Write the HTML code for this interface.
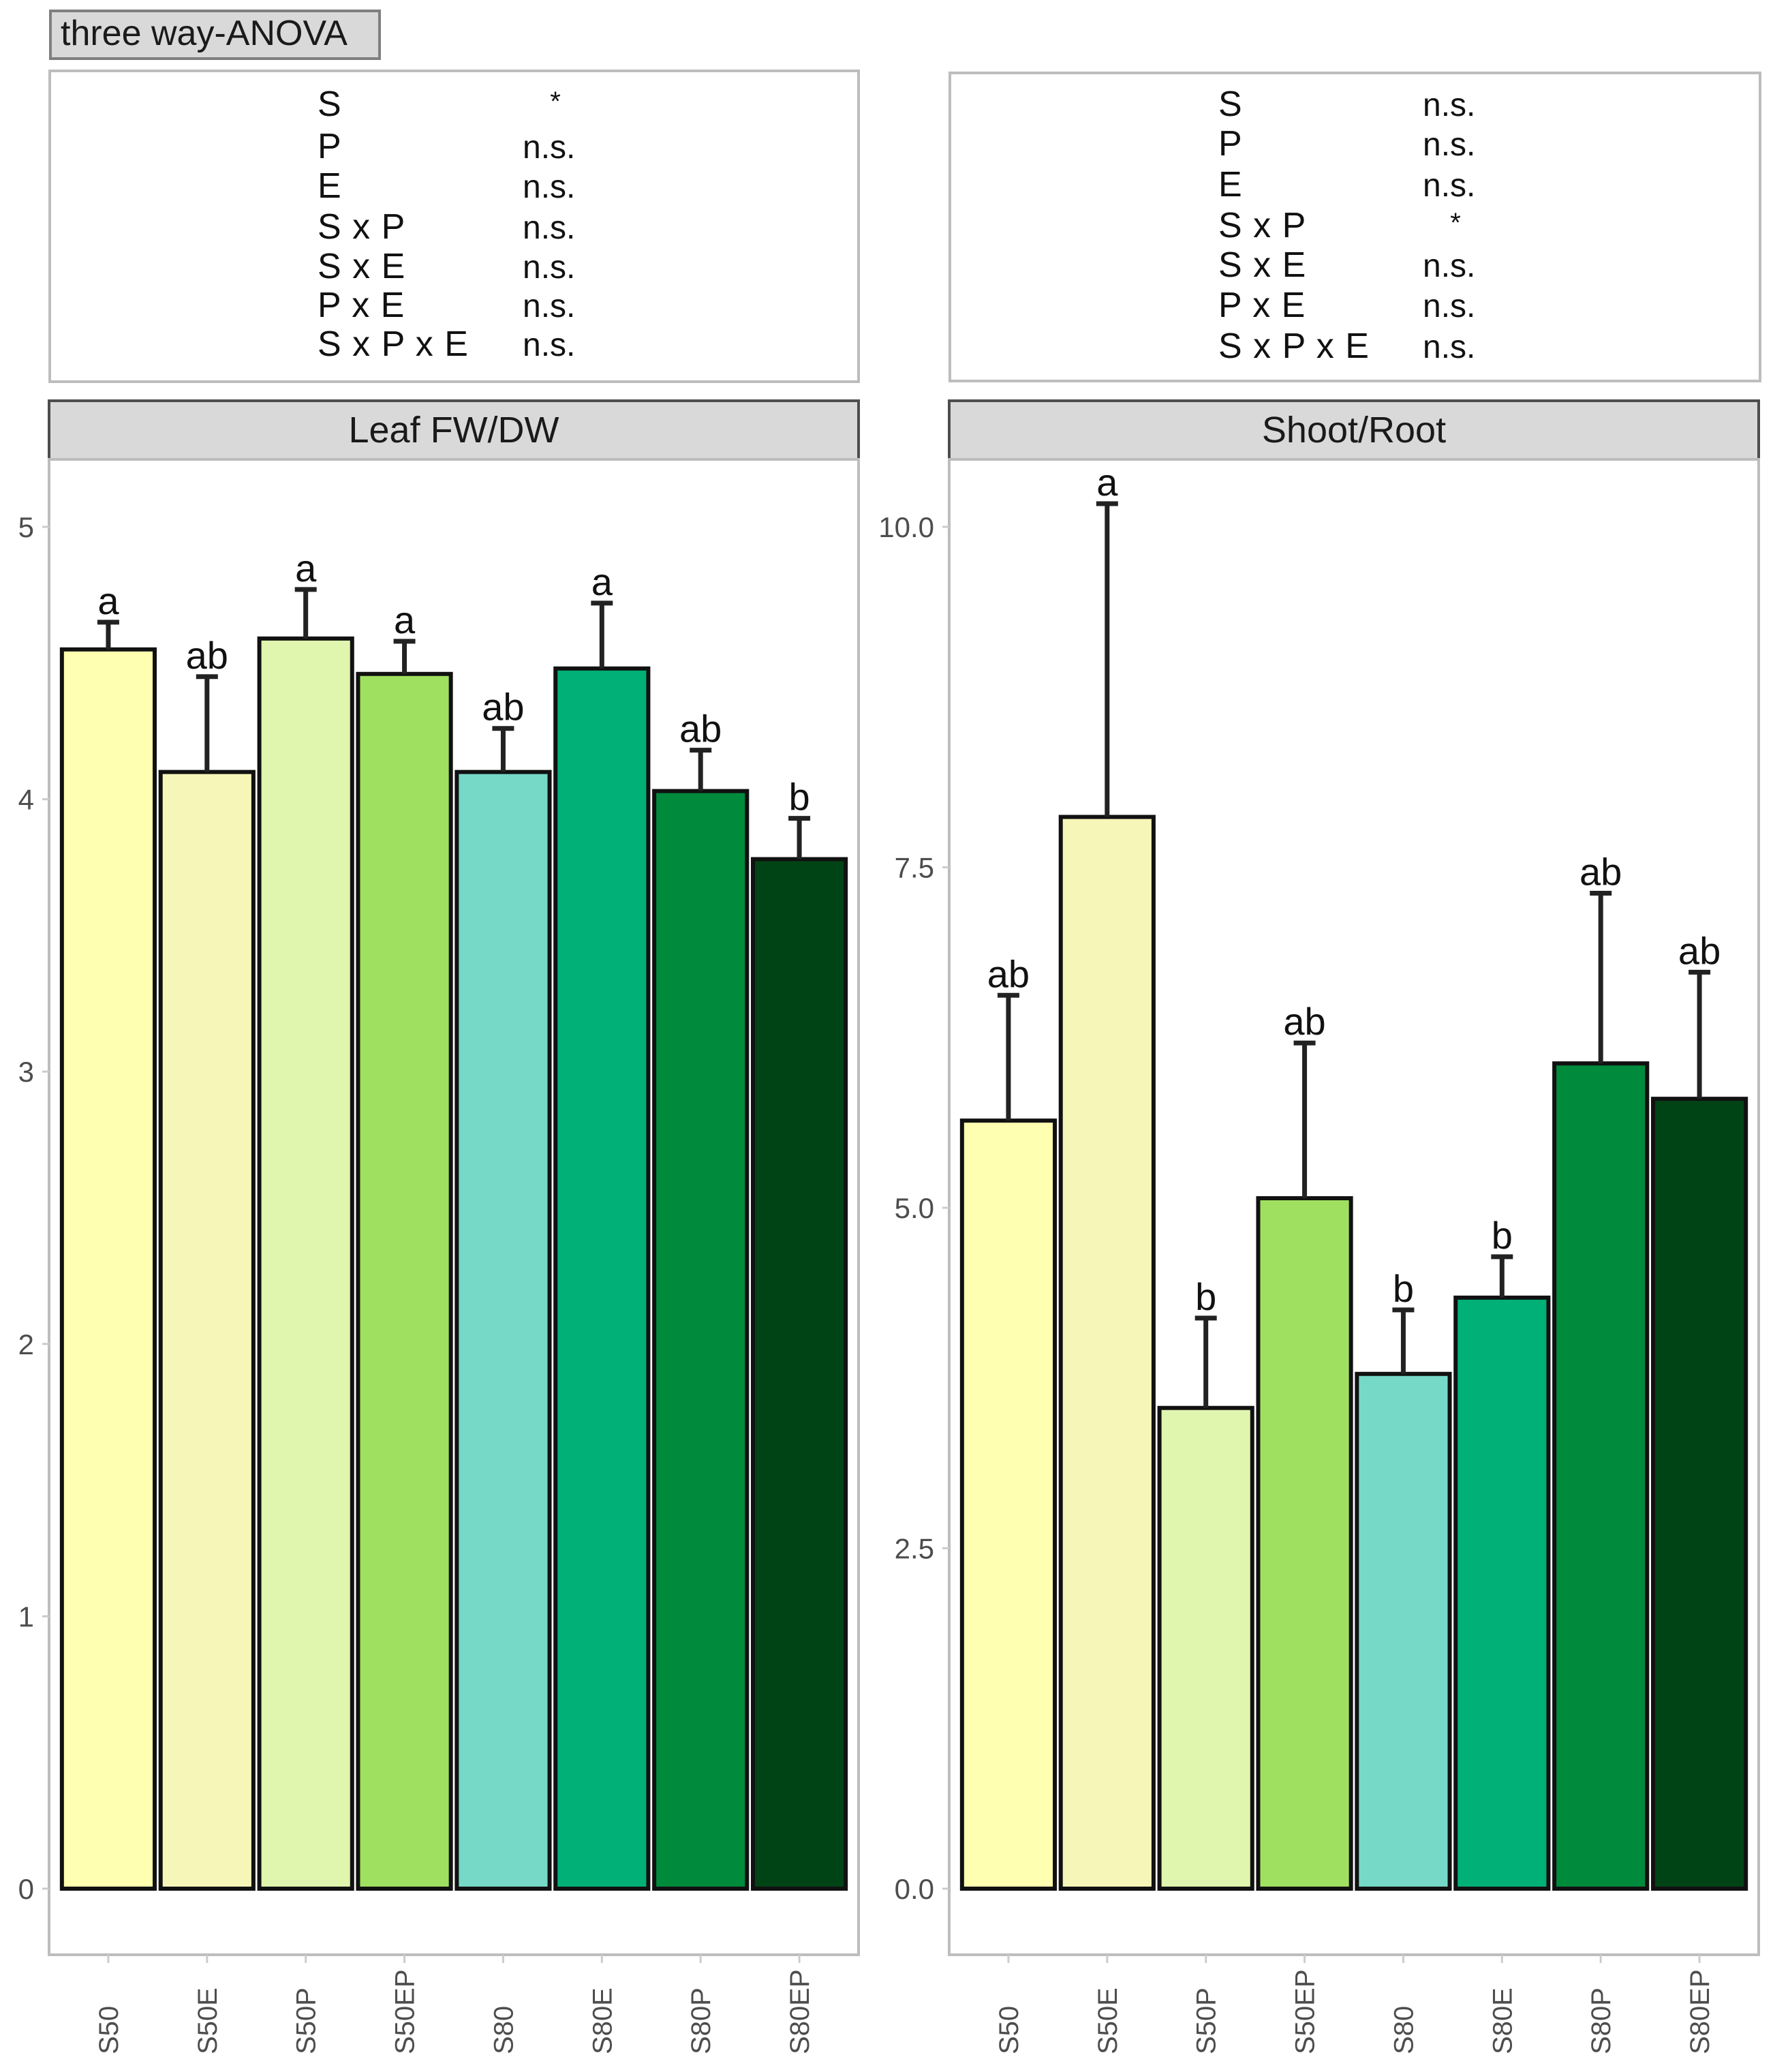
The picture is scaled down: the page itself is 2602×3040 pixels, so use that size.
<!DOCTYPE html>
<html><head><meta charset="utf-8"><style>
html,body{margin:0;padding:0;background:#fff;}
svg{display:block;font-family:"Liberation Sans",sans-serif;}
</style></head><body>
<svg id="fig" width="2602" height="3040" viewBox="0 0 2602 3040" xmlns="http://www.w3.org/2000/svg">
<rect x="0" y="0" width="2602" height="3040" fill="#fff"/>
<g>
<rect x="74" y="16" width="483" height="70" fill="#d9d9d9" stroke="#7f7f7f" stroke-width="4"/>
<text x="89" y="66" font-size="52" fill="#1a1a1a">three way-ANOVA</text>
</g>
<rect x="73" y="104" width="1187" height="456" fill="#fff" stroke="#bdbdbd" stroke-width="4"/>
<rect x="1394" y="107" width="1189" height="452" fill="#fff" stroke="#bdbdbd" stroke-width="4"/>
<g id="tables"></g>
<g id="panels"></g>
</svg>
<script>
const NS="http://www.w3.org/2000/svg";
const categories=["S50","S50E","S50P","S50EP","S80","S80E","S80P","S80EP"];
const colors=["#feffb0","#f5f6b8","#e0f5ae","#a0e060","#76d9c8","#00b077","#008a3c","#004416"];
const leafValues=[4.55,4.10,4.59,4.46,4.10,4.48,4.03,3.78];
const leafErrTop=[4.65,4.45,4.77,4.58,4.26,4.72,4.18,3.93];
const leafLetters=["a","ab","a","a","ab","a","ab","b"];
const leafTicks=[0,1,2,3,4,5];
const leafTickLabels=["0","1","2","3","4","5"];
const srValues=[5.64,7.87,3.53,5.07,3.78,4.34,6.06,5.80];
const srErrTop=[6.56,10.17,4.19,6.21,4.25,4.64,7.31,6.73];
const srLetters=["ab","a","b","ab","b","b","ab","ab"];
const srTicks=[0,2.5,5,7.5,10];
const srTickLabels=["0.0","2.5","5.0","7.5","10.0"];
const anovaTerms=["S","P","E","S x P","S x E","P x E","S x P x E"];
const anovaLeft=["*","n.s.","n.s.","n.s.","n.s.","n.s.","n.s."];
const anovaRight=["n.s.","n.s.","n.s.","*","n.s.","n.s.","n.s."];

function mk(tag,attrs,parent,txt){const e=document.createElementNS(NS,tag);for(const k in attrs)e.setAttribute(k,attrs[k]);if(txt!==undefined)e.textContent=txt;parent.appendChild(e);return e;}

const tg=document.getElementById('tables');
const rowsL=[150,212,270,330,388,445,502];
const rowsR=[150,208,268,328,386,445,505];
function table(termX,valX,rows,vals,prefix){
  anovaTerms.forEach((t,i)=>{
    const a=mk('text',{x:termX,y:rows[i]+20,'font-size':52,fill:'#111','letter-spacing':'1'},tg,t);
    
    
    const star=vals[i]==='*';
    const b=mk('text',{x:star?valX+48:valX,y:star?rows[i]+12:rows[i]+20,'font-size':star?40:48,fill:'#111','text-anchor':star?'middle':'start'},tg,vals[i]);
    
    
  });
}
table(466,767,rowsL,anovaLeft,'left');
table(1788,2088,rowsR,anovaRight,'right');

const pg=document.getElementById('panels');
const y0=2771;
function panel(px0,px1,title,values,errs,letters,ticks,tickLabels,pxPerUnit,name){
  const g=mk('g',{},pg);
  
  
  const s=mk('rect',{x:px0,y:588,width:px1-px0,height:86,fill:'#d9d9d9',stroke:'#4d4d4d','stroke-width':4},g);
  
  
  const st=mk('text',{x:(px0+px1)/2,y:649,'font-size':54,fill:'#1a1a1a','text-anchor':'middle'},g,title);
  
  
  const f=mk('rect',{x:px0,y:674,width:px1-px0,height:2868-674,fill:'#fff',stroke:'#bdbdbd','stroke-width':4},g);
  
  
  const n=categories.length;
  const unit=(px1-px0)/(n-1+1.2);
  const xs=i=>px0+unit*(0.6+i);
  const ys=v=>y0-v*pxPerUnit;
  ticks.forEach((t,i)=>{
    const tl=mk('line',{x1:px0-10,x2:px0,y1:ys(t),y2:ys(t),stroke:'#ccc','stroke-width':3},g);
    
    
    const tx=mk('text',{x:px0-22,y:ys(t)+15,'font-size':42,fill:'#4d4d4d','text-anchor':'end'},g,tickLabels[i]);
    
    
  });
  const bw=unit*0.94;
  categories.forEach((c,i)=>{
    const cx=xs(i);
    const b=mk('rect',{x:cx-bw/2,y:ys(values[i]),width:bw,height:values[i]*pxPerUnit,fill:colors[i],stroke:'#111','stroke-width':6},g);
    
    
    const e=mk('line',{x1:cx,x2:cx,y1:ys(values[i]),y2:ys(errs[i]),stroke:'#222','stroke-width':7},g);
    
    
    const cap=mk('line',{x1:cx-16,x2:cx+16,y1:ys(errs[i]),y2:ys(errs[i]),stroke:'#222','stroke-width':7},g);
    
    
    const l=mk('text',{x:cx,y:ys(errs[i])-12,'font-size':56,fill:'#111','text-anchor':'middle'},g,letters[i]);
    
    
    const xt=mk('line',{x1:cx,x2:cx,y1:2868,y2:2880,stroke:'#ccc','stroke-width':3},g);
    
    
    const xl=mk('text',{x:0,y:0,'font-size':40,fill:'#4d4d4d','text-anchor':'start',transform:'translate('+(cx+14)+',3014) rotate(-90)'},g,c);
    
    
  });
}
panel(72,1260,"Leaf FW/DW",leafValues,leafErrTop,leafLetters,leafTicks,leafTickLabels,399.6,'leaf-fwdw');
panel(1393,2581,"Shoot/Root",srValues,srErrTop,srLetters,srTicks,srTickLabels,199.8,'shoot-root');
</script>
</body></html>
